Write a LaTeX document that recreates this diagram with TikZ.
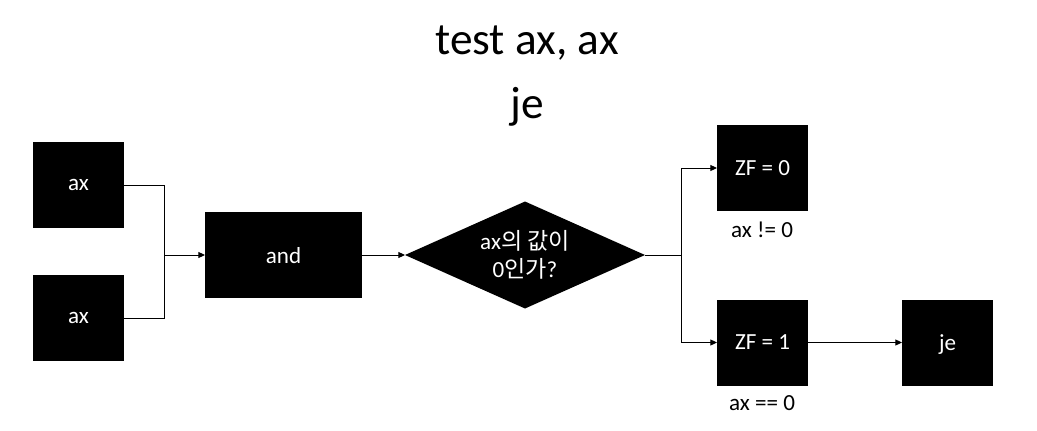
\documentclass[tikz,border=0pt]{standalone}
\usepackage{fontspec}
\setmainfont{Carlito}
\newfontfamily\kr{Noto Sans CJK KR}
\usetikzlibrary{shapes.geometric,arrows.meta}
\tikzset{
  blk/.style={fill=black, text=white, inner sep=0pt, outer sep=0pt, text depth=0pt,
    minimum width=68.25pt, minimum height=64.5pt, font=\fontsize{17.3pt}{21pt}\selectfont},
  lbl/.style={inner sep=0pt, font=\fontsize{17.3pt}{21pt}\selectfont},
  ttl/.style={inner sep=0pt, font=\fontsize{34pt}{40pt}\selectfont},
  conn/.style={line width=0.75pt, -{Triangle[length=5pt,width=4.5pt]}},
  plain/.style={line width=0.75pt}
}
\begin{document}
\begin{tikzpicture}[x=0.75pt,y=-0.75pt]
\useasboundingbox (0,0) rectangle (1037,431);
\node[ttl, anchor=base] (t1) at (527,55) {test ax, ax};
\node[ttl, anchor=base] (t2) at (527,118) {je};
\node[blk] (ax1) at (78.5,185) {ax};
\node[blk] (ax2) at (78.5,318) {ax};
\node[blk, minimum width=117.75pt] (and) at (283.5,255) {and};
\node[diamond, fill=black, text=white, inner sep=0pt, outer sep=0pt, aspect=2.24,
  minimum width=180pt, minimum height=80.25pt, align=center,
  font=\fontsize{17.3pt}{21pt}\selectfont] (dia) at (525,255)
  {ax{\kr 의 값이}\\0{\kr 인가}?};
\node[blk] (zf0) at (762.5,168) {ZF = 0};
\node[blk] (zf1) at (762.5,342.5) {ZF = 1};
\node[blk] (je) at (947.5,342.5) {je};
\node[lbl] (l0) at (762,230) {ax != 0};
\node[lbl] (l1) at (762,403) {ax == 0};
\coordinate (j) at (164,255);
\coordinate (k) at (681,255);
\draw[plain] (ax1.east) -| (j);
\draw[plain] (ax2.east) -| (j);
\draw[conn] (j) -- (and.west);
\draw[conn] (and.east) -- (dia.west);
\draw[plain] (dia.east) -- (k);
\draw[conn] (k) |- (zf0.west);
\draw[conn] (k) |- (zf1.west);
\draw[conn] (zf1.east) -- (je.west);
\end{tikzpicture}
\end{document}
